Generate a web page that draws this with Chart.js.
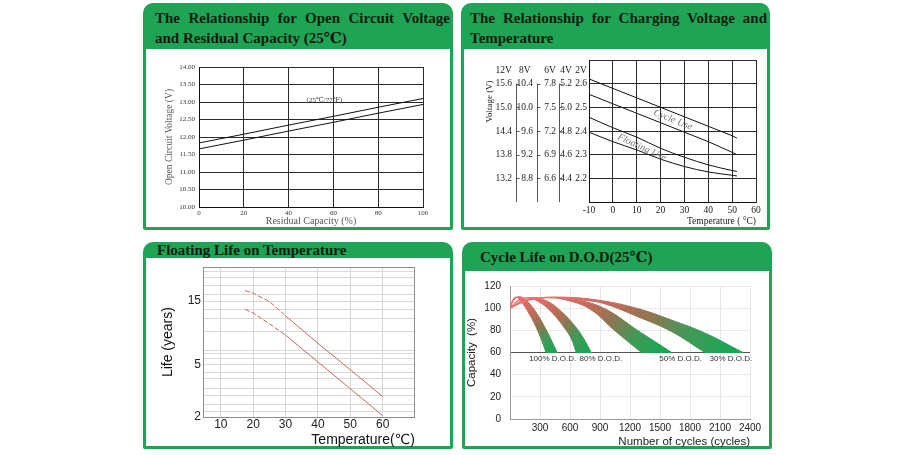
<!DOCTYPE html>
<html>
<head>
<meta charset="utf-8">
<script src="https://cdn.jsdelivr.net/npm/chart.js@4.4.1/dist/chart.umd.min.js"></script>
<style>
  body { margin: 0; width: 920px; height: 455px; background: #fff; position: relative; overflow: hidden; }
  .panel { position: absolute; box-sizing: border-box; border: 3px solid #1fa354; border-radius: 10px 10px 2px 2px; background: #fff; }
  .head { background: #1fa354; position: relative; }
  .ttl { position: absolute; font: bold 15px 'Liberation Serif', 'DejaVu Serif', 'Noto Sans CJK SC', serif; color: #0b1d0f; line-height: 20px; white-space: nowrap; }
  .just { text-align: justify; text-align-last: justify; white-space: normal; }
  canvas { position: absolute; }
</style>
</head>
<body>

<div class="panel" style="left:143px;top:3px;width:310px;height:227px">
  <div class="head" style="height:43px">
    <div class="ttl" style="left:9px;right:0;top:2px">
      <div class="just">The Relationship for Open Circuit Voltage</div>
      <div>and Residual Capacity (25℃)</div>
    </div>
  </div>
</div>
<div class="panel" style="left:461px;top:3px;width:309px;height:227px">
  <div class="head" style="height:43px">
    <div class="ttl" style="left:6px;right:0;top:2px">
      <div class="just">The Relationship for Charging Voltage and</div>
      <div>Temperature</div>
    </div>
  </div>
</div>
<div class="panel" style="left:143px;top:242px;width:310px;height:207px">
  <div class="head" style="height:13px">
    <div class="ttl" style="left:11px;top:-2px;line-height:15px">Floating Life on Temperature</div>
  </div>
</div>
<div class="panel" style="left:462px;top:242px;width:310px;height:207px">
  <div class="head" style="height:26px">
    <div class="ttl" style="left:15px;top:2px">Cycle Life on D.O.D(25℃)</div>
  </div>
</div>

<canvas id="c1" width="303" height="178" style="left:146px;top:49px"></canvas>
<canvas id="c2" width="303" height="178" style="left:464px;top:49px"></canvas>
<canvas id="c3" width="304" height="191" style="left:146px;top:258px"></canvas>
<canvas id="c4" width="304" height="178" style="left:465px;top:271px"></canvas>

<script>
// open circuit voltage vs residual capacity
const capX = [0, 20, 40, 60, 80, 100];
const ocvHigh = [11.83, 12.08, 12.34, 12.59, 12.85, 13.10];
const ocvLow = [11.66, 11.91, 12.17, 12.42, 12.68, 12.93];
const ocvTicks = [10, 10.5, 11, 11.5, 12, 12.5, 13, 13.5, 14];

// charging voltage vs temperature (2V cell values)
const tempX = [-10, 0, 10, 20, 30, 40, 50, 52];
const cycleHigh = [2.62, 2.58, 2.54, 2.50, 2.46, 2.42, 2.38, 2.37];
const cycleLow = [2.555, 2.515, 2.475, 2.435, 2.395, 2.355, 2.31, 2.30];
const floatHigh = [2.458, 2.414, 2.374, 2.327, 2.289, 2.257, 2.233, 2.229];
const floatLow = [2.395, 2.355, 2.32, 2.281, 2.25, 2.227, 2.213, 2.21];
const tempTicks = [-10, 0, 10, 20, 30, 40, 50, 60];
const cellGrid = [2.1, 2.2, 2.3, 2.4, 2.5, 2.6, 2.7];
const cellTicks = [2.2, 2.3, 2.4, 2.5, 2.6];
const v4Ticks = [4.4, 4.6, 4.8, 5.0, 5.2];
const v6Ticks = [6.6, 6.9, 7.2, 7.5, 7.8];
const v8Ticks = [8.8, 9.2, 9.6, 10.0, 10.4];
const v12Ticks = [13.2, 13.8, 14.4, 15.0, 15.6];

// floating life vs temperature
const lifeTemp = [17.5, 20, 25, 30, 40, 50, 60];
const lifeHigh = [18, 17.2, 14.9, 11.6, 7.2, 4.55, 2.85];
const lifeLow = [13, 12.2, 10.1, 8.3, 5.2, 3.27, 2.05];
const lifeTicks = [10, 20, 30, 40, 50, 60];
const lifeGrid = [2, 2.2, 2.5, 2.9, 3.3, 3.9, 4.3, 5, 5.5, 6, 6.3, 8.8, 11, 13, 15, 16.7, 19.6, 22.4, 25];
const lifeLabels = [2, 5, 15];

// cycle life vs depth of discharge
const cycTicks = [300, 600, 900, 1200, 1500, 1800, 2100, 2400];
const capPct = [0, 20, 40, 60, 80, 100, 120];
const dodNames = ['100% D.O.D.', '80% D.O.D.', '50% D.O.D.', '30% D.O.D.'];
const dodLabelX = [427, 909, 1707, 2209];
const d100OutX = [0, 45, 95, 170, 270, 370, 472];
const d100OutY = [100, 108, 110.5, 106.5, 95, 79, 60];
const d100InX = [0, 25, 60, 120, 210, 290, 361];
const d100InY = [100, 107, 110, 105, 92, 77, 60];
const d80OutX = [0, 100, 240, 380, 500, 620, 720, 813];
const d80OutY = [100, 107.5, 109.5, 106, 98, 87, 75, 60];
const d80InX = [0, 80, 190, 310, 420, 530, 610, 663];
const d80InY = [100, 107, 109, 104.5, 96, 84, 73, 60];
const d50OutX = [0, 150, 420, 700, 960, 1275, 1617];
const d50OutY = [100, 107, 109.8, 107, 99, 80, 60];
const d50InX = [0, 120, 380, 620, 820, 1044, 1315];
const d50InY = [100, 106.5, 109.5, 106, 98, 80, 60];
const d30OutX = [0, 200, 480, 900, 1278, 1613, 1948, 2330];
const d30OutY = [100, 107.5, 110, 107, 99.6, 89.3, 77.6, 60];
const d30InX = [0, 170, 440, 760, 944, 1278, 1613, 1950];
const d30InY = [100, 107, 109.5, 107, 104, 92.3, 79, 60];

Chart.defaults.animation = false;
Chart.defaults.plugins.legend.display = false;
Chart.defaults.plugins.tooltip.enabled = false;
Chart.defaults.elements.point.radius = 0;

const SERIF = "'Liberation Serif', 'DejaVu Serif', 'Noto Sans CJK SC', serif";
const SANS = "'Liberation Sans', 'DejaVu Sans', 'Noto Sans CJK SC', sans-serif";

function pts(xs, ys) { return xs.map((x, i) => ({ x: x, y: ys[i] })); }
function setTicks(list) { return s => { s.ticks = list.map(v => ({ value: v })); }; }
function fitW(w) { return s => { s.width = w; }; }
function fitH(h) { return s => { s.height = h; }; }

// text drawn at data coordinates
function notes(id, items) {
  return {
    id: id,
    afterDatasetsDraw(chart) {
      const ctx = chart.ctx;
      items.forEach(t => {
        ctx.save();
        ctx.font = t.font;
        ctx.fillStyle = t.color;
        ctx.textAlign = 'center';
        ctx.textBaseline = 'middle';
        ctx.translate(chart.scales.x.getPixelForValue(t.x), chart.scales.y.getPixelForValue(t.y));
        ctx.rotate((t.rot || 0) * Math.PI / 180);
        ctx.fillText(t.text, 0, 0);
        ctx.restore();
      });
    }
  };
}

const boxPlugin = {
  id: 'box',
  afterDraw(chart) {
    const a = chart.chartArea, ctx = chart.ctx;
    ctx.save();
    ctx.strokeStyle = '#8c8c8c';
    ctx.lineWidth = 1;
    ctx.strokeRect(Math.round(a.left) + 0.5, Math.round(a.top) + 0.5, Math.round(a.right - a.left) - 1, Math.round(a.bottom - a.top));
    ctx.restore();
  }
};

// ---------- chart 1 ----------
new Chart(document.getElementById('c1'), {
  type: 'line',
  data: {
    datasets: [
      { data: pts(capX, ocvHigh), borderColor: '#111', borderWidth: 1 },
      { data: pts(capX, ocvLow), borderColor: '#111', borderWidth: 1 }
    ]
  },
  options: {
    responsive: false,
    layout: { padding: { left: 18, right: 26, top: 18, bottom: 0 } },
    scales: {
      x: {
        type: 'linear', min: 0, max: 100,
        afterBuildTicks: setTicks(capX), afterFit: fitH(20),
        grid: { color: '#2a2a2a', drawTicks: false },
        border: { color: '#111' },
        ticks: { font: { family: SERIF, size: 7 }, color: '#333', padding: 2 },
        title: { display: true, text: 'Residual Capacity (%)', font: { family: SERIF, size: 10 }, color: '#555', padding: 0 }
      },
      y: {
        min: 10, max: 14,
        afterBuildTicks: setTicks(ocvTicks), afterFit: fitW(35),
        grid: { color: '#2a2a2a', drawTicks: false },
        border: { color: '#111' },
        ticks: { font: { family: SERIF, size: 7 }, color: '#333', padding: 4, callback: v => v.toFixed(2) },
        title: { display: true, text: 'Open Circuit Voltage (V)', font: { family: SERIF, size: 9.5 }, color: '#555', padding: 0 }
      }
    }
  },
  plugins: [notes('n1', [{ text: '(25℃/77℉)', x: 56, y: 13.06, font: '7px ' + SERIF, color: '#444' }])]
});

// ---------- chart 2 ----------
function voltAxis(list, w, pad, weight) {
  const step = list[1] - list[0];
  return {
    position: 'left', weight: weight,
    min: list[0] - step, max: list[list.length - 1] + step,
    afterBuildTicks: setTicks(list), afterFit: fitW(w),
    grid: { display: false, drawTicks: false },
    border: { display: false },
    ticks: { font: { family: SERIF, size: 9.5 }, color: '#222', padding: pad, autoSkip: false, callback: v => v.toFixed(1) }
  };
}
const voltCols = [['y12', '12V'], ['y8', '8V'], ['y6', '6V'], ['y4', '4V'], ['y', '2V']];

const voltDecor = {
  id: 'voltDecor',
  afterDraw(chart) {
    const ctx = chart.ctx, area = chart.chartArea;
    ctx.save();
    ctx.strokeStyle = '#555';
    ctx.lineWidth = 1;
    ['y12', 'y8', 'y6'].forEach(id => {
      const s = chart.scales[id];
      const x = Math.round(s.right) + 0.5;
      const vals = s.ticks.map(t => t.value);
      ctx.beginPath();
      ctx.moveTo(x, s.getPixelForValue(Math.max(...vals)));
      ctx.lineTo(x, area.bottom);
      vals.forEach(v => {
        const y = Math.round(s.getPixelForValue(v)) + 0.5;
        ctx.moveTo(x, y);
        ctx.lineTo(x + 3, y);
      });
      ctx.stroke();
    });
    ctx.font = '9.5px ' + SERIF;
    ctx.fillStyle = '#222';
    ctx.textAlign = 'center';
    ctx.textBaseline = 'middle';
    voltCols.forEach(([id, name]) => {
      const s = chart.scales[id];
      const labels = s.ticks.map(t => t.label).filter(l => l);
      const w = Math.max(...labels.map(l => ctx.measureText(l).width));
      ctx.fillText(name, s.right - s.options.ticks.padding - w / 2, area.top + 10);
    });
    ctx.translate(chart.scales.y12.left + 10, chart.scales.y.getPixelForValue(2.525));
    ctx.rotate(-Math.PI / 2);
    ctx.font = '9px ' + SERIF;
    ctx.fillText('Voltage (V)', 0, 0);
    ctx.restore();
  }
};

const mainVolt = {
  position: 'left', weight: 0, min: 2.1, max: 2.7,
  afterBuildTicks: setTicks(cellGrid), afterFit: fitW(14),
  grid: { color: '#2a2a2a', drawTicks: false },
  border: { color: '#111' },
  ticks: { font: { family: SERIF, size: 9.5 }, color: '#222', padding: 2, autoSkip: false,
           callback: v => cellTicks.includes(v) ? v.toFixed(1) : '' }
};

new Chart(document.getElementById('c2'), {
  type: 'line',
  data: {
    datasets: [
      { data: pts(tempX, cycleHigh), borderColor: '#111', borderWidth: 1 },
      { data: pts(tempX, cycleLow), borderColor: '#111', borderWidth: 1 },
      { data: pts(tempX, floatHigh), borderColor: '#111', borderWidth: 1, cubicInterpolationMode: 'monotone' },
      { data: pts(tempX, floatLow), borderColor: '#111', borderWidth: 1, cubicInterpolationMode: 'monotone' }
    ]
  },
  options: {
    responsive: false,
    layout: { padding: { left: 16, right: 11, top: 11, bottom: 0 } },
    scales: {
      x: {
        type: 'linear', min: -10, max: 60,
        afterBuildTicks: setTicks(tempTicks), afterFit: fitH(25),
        grid: { color: '#2a2a2a', drawTicks: false },
        border: { color: '#111' },
        ticks: { font: { family: SERIF, size: 9.5 }, color: '#222', padding: 3 },
        title: { display: true, text: 'Temperature ( °C)', align: 'end', font: { family: SERIF, size: 9.5 }, color: '#222', padding: 0 }
      },
      y: mainVolt,
      y4: voltAxis(v4Ticks, 16, 3, 1),
      y6: voltAxis(v6Ticks, 22, 3, 2),
      y8: voltAxis(v8Ticks, 21, 4, 3),
      y12: voltAxis(v12Ticks, 36, 4, 4)
    }
  },
  plugins: [voltDecor, notes('n2', [
    { text: 'Cycle Use', x: 25.2, y: 2.447, rot: 22, font: 'italic 10px ' + SERIF, color: '#777' },
    { text: 'Floating Use', x: 12.2, y: 2.33, rot: 25, font: 'italic 10px ' + SERIF, color: '#777' }
  ])]
});

// ---------- chart 3 ----------
const lifeDash = { borderDash: c => c.p1.parsed.x <= 30 ? [5, 2] : undefined };
new Chart(document.getElementById('c3'), {
  type: 'line',
  data: {
    datasets: [
      { data: pts(lifeTemp, lifeHigh), borderColor: '#c8685a', borderWidth: 1, segment: lifeDash },
      { data: pts(lifeTemp, lifeLow), borderColor: '#c8685a', borderWidth: 1, segment: lifeDash }
    ]
  },
  options: {
    responsive: false,
    layout: { padding: { left: 14, right: 35, top: 6, bottom: 0 } },
    scales: {
      x: {
        type: 'linear', min: 4.5, max: 70,
        afterBuildTicks: setTicks(lifeTicks), afterFit: fitH(32),
        grid: { color: '#d6d6d6', drawTicks: false },
        border: { display: false },
        ticks: { font: { family: SANS, size: 12 }, color: '#222', padding: 0 },
        title: { display: true, text: 'Temperature(℃)', align: 'end', font: { family: SANS, size: 14 }, color: '#111', padding: 0 }
      },
      y: {
        type: 'logarithmic', min: 2, max: 27,
        afterBuildTicks: setTicks(lifeGrid), afterFit: fitW(43),
        grid: { color: '#d9d9d9', drawTicks: false },
        border: { display: false },
        ticks: { font: { family: SANS, size: 12 }, color: '#222', padding: 2, autoSkip: false,
                 callback: v => lifeLabels.includes(v) ? String(v) : '' },
        title: { display: true, text: 'Life (years)', font: { family: SANS, size: 14 }, color: '#111', padding: 0 }
      }
    }
  },
  plugins: [boxPlugin]
});

// ---------- chart 4 ----------
function bandPoints(ox, oy, ix, iy) {
  const outer = pts(ox, oy), inner = pts(ix, iy);
  return outer.concat([outer[outer.length - 1], inner[inner.length - 1]], inner.reverse());
}
function bandPaint(ox, oy, ix) {
  return function (c) {
    const chart = c.chart;
    if (!chart.chartArea) return '#c06060';
    const sx = chart.scales.x, sy = chart.scales.y;
    const peakX = ox[oy.indexOf(Math.max(...oy))];
    const endX = (ox[ox.length - 1] + ix[ix.length - 1]) / 2;
    const g = chart.ctx.createLinearGradient(sx.getPixelForValue(peakX), sy.getPixelForValue(110),
                                             sx.getPixelForValue(endX), sy.getPixelForValue(60));
    g.addColorStop(0, '#e86e6e');
    g.addColorStop(0.3, '#c46a5a');
    g.addColorStop(0.55, '#8c7650');
    g.addColorStop(0.78, '#3f9a57');
    g.addColorStop(1, '#1fa453');
    return g;
  };
}
function bandSet(ox, oy, ix, iy) {
  const paint = bandPaint(ox, oy, ix);
  return { data: bandPoints(ox, oy, ix, iy), fill: 'shape', tension: 0.4, borderWidth: 1,
           backgroundColor: paint, borderColor: paint };
}

new Chart(document.getElementById('c4'), {
  type: 'line',
  data: {
    datasets: [
      bandSet(d30OutX, d30OutY, d30InX, d30InY),
      bandSet(d50OutX, d50OutY, d50InX, d50InY),
      bandSet(d80OutX, d80OutY, d80InX, d80InY),
      bandSet(d100OutX, d100OutY, d100InX, d100InY)
    ]
  },
  options: {
    responsive: false,
    layout: { padding: { left: 0, right: 19, top: 11, bottom: 0 } },
    scales: {
      x: {
        type: 'linear', min: 0, max: 2400,
        afterBuildTicks: setTicks(cycTicks), afterFit: fitH(30),
        grid: { color: '#e6e6e6', drawTicks: false },
        border: { color: '#999' },
        ticks: { font: { family: SANS, size: 10 }, color: '#222', padding: 3, autoSkip: false, callback: v => String(v) },
        title: { display: true, text: 'Number of cycles (cycles)', align: 'end', font: { family: SANS, size: 11.5 }, color: '#222', padding: 0 }
      },
      y: {
        min: 0, max: 120,
        afterBuildTicks: setTicks(capPct), afterFit: fitW(45),
        grid: { color: c => c.tick && c.tick.value === 60 ? '#555' : '#e8e8e8', drawTicks: false },
        border: { color: '#999' },
        ticks: { font: { family: SANS, size: 10 }, color: '#222', padding: 9 },
        title: { display: true, text: 'Capacity  (%)', font: { family: SANS, size: 11.5 }, color: '#222', padding: 0 }
      }
    }
  },
  plugins: [notes('n4', dodNames.map((n, i) => ({ text: n, x: dodLabelX[i], y: 54, font: '8px ' + SANS, color: '#333' })))]
});
</script>
</body>
</html>
